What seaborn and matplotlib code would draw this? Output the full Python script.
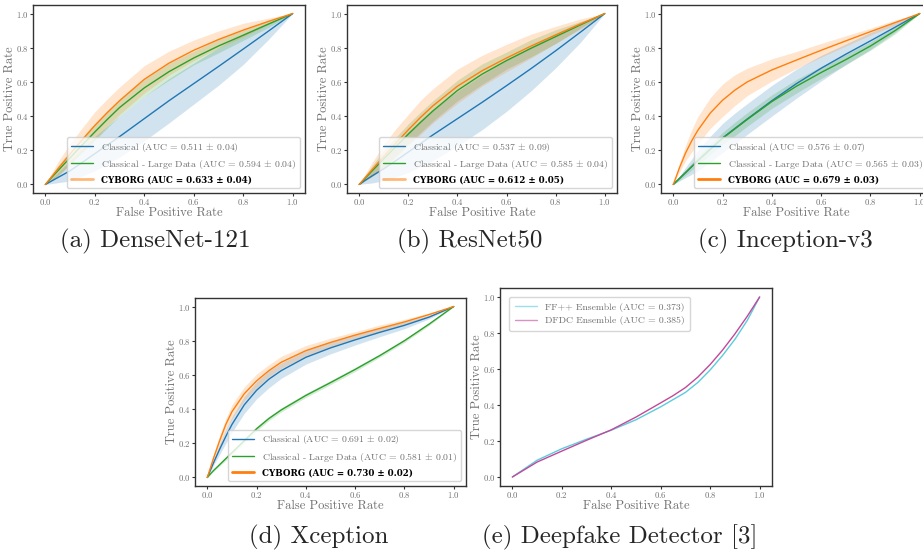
import matplotlib
matplotlib.use("Agg")
import matplotlib.pyplot as plt
import seaborn as sns
from matplotlib.lines import Line2D
from matplotlib.font_manager import FontProperties

# false positive rate grid used for the four model panels
fpr = [0, 0.025, 0.05, 0.075, 0.1, 0.15, 0.2, 0.25, 0.3, 0.4, 0.5, 0.6, 0.7, 0.8, 0.9, 1.0]

# (a) DenseNet-121
dense_classical = [0, 0.02, 0.04, 0.06, 0.08, 0.13, 0.18, 0.23, 0.28, 0.385, 0.49, 0.59, 0.69, 0.792, 0.895, 1]
dense_classical_sd = [0, 0.015, 0.03, 0.045, 0.06, 0.08, 0.10, 0.11, 0.12, 0.13, 0.13, 0.12, 0.11, 0.09, 0.05, 0]
dense_large = [0, 0.04, 0.079, 0.118, 0.156, 0.232, 0.307, 0.38, 0.45, 0.565, 0.66, 0.74, 0.81, 0.873, 0.937, 1]
dense_large_sd = [0, 0.015, 0.03, 0.035, 0.04, 0.045, 0.05, 0.05, 0.05, 0.05, 0.05, 0.04, 0.04, 0.03, 0.02, 0]
dense_cyborg = [0, 0.045, 0.09, 0.134, 0.178, 0.263, 0.345, 0.42, 0.49, 0.615, 0.71, 0.785, 0.848, 0.903, 0.953, 1]
dense_cyborg_sd = [0, 0.02, 0.04, 0.05, 0.06, 0.07, 0.08, 0.08, 0.08, 0.08, 0.07, 0.06, 0.05, 0.04, 0.02, 0]
dense_auc = ["0.511", "0.594", "0.633"]
dense_auc_sd = ["0.04", "0.04", "0.04"]

# (b) ResNet50
resnet_classical = [0, 0.025, 0.048, 0.07, 0.092, 0.14, 0.19, 0.24, 0.29, 0.385, 0.48, 0.578, 0.678, 0.782, 0.89, 1]
resnet_classical_sd = [0, 0.02, 0.04, 0.055, 0.07, 0.095, 0.12, 0.135, 0.15, 0.16, 0.16, 0.15, 0.13, 0.10, 0.06, 0]
resnet_large = [0, 0.038, 0.076, 0.113, 0.15, 0.223, 0.295, 0.364, 0.43, 0.55, 0.645, 0.725, 0.797, 0.865, 0.933, 1]
resnet_large_sd = [0, 0.015, 0.03, 0.04, 0.05, 0.055, 0.06, 0.06, 0.06, 0.06, 0.06, 0.05, 0.05, 0.04, 0.02, 0]
resnet_cyborg = [0, 0.042, 0.083, 0.124, 0.164, 0.243, 0.32, 0.393, 0.46, 0.575, 0.665, 0.74, 0.81, 0.875, 0.938, 1]
resnet_cyborg_sd = [0, 0.02, 0.04, 0.055, 0.07, 0.085, 0.09, 0.10, 0.10, 0.10, 0.09, 0.08, 0.07, 0.05, 0.03, 0]
resnet_auc = ["0.537", "0.585", "0.612"]
resnet_auc_sd = ["0.09", "0.04", "0.05"]

# (c) Inception-v3
incep_classical = [0, 0.035, 0.07, 0.105, 0.14, 0.207, 0.272, 0.328, 0.383, 0.49, 0.59, 0.68, 0.762, 0.84, 0.92, 1]
incep_classical_sd = [0, 0.015, 0.03, 0.045, 0.06, 0.075, 0.085, 0.09, 0.09, 0.09, 0.085, 0.075, 0.06, 0.05, 0.03, 0]
incep_large = [0, 0.035, 0.07, 0.105, 0.14, 0.205, 0.27, 0.325, 0.38, 0.485, 0.575, 0.655, 0.73, 0.81, 0.90, 1]
incep_large_sd = [0, 0.01, 0.015, 0.02, 0.025, 0.03, 0.035, 0.04, 0.04, 0.04, 0.04, 0.035, 0.03, 0.025, 0.02, 0]
incep_cyborg = [0, 0.098, 0.185, 0.256, 0.318, 0.418, 0.493, 0.552, 0.60, 0.67, 0.728, 0.785, 0.84, 0.894, 0.947, 1]
incep_cyborg_sd = [0, 0.025, 0.045, 0.065, 0.08, 0.09, 0.095, 0.09, 0.08, 0.065, 0.05, 0.04, 0.03, 0.02, 0.015, 0]
incep_auc = ["0.576", "0.565", "0.679"]
incep_auc_sd = ["0.07", "0.03", "0.03"]

# (d) Xception
xcep_classical = [0, 0.085, 0.165, 0.24, 0.31, 0.425, 0.51, 0.575, 0.625, 0.703, 0.758, 0.805, 0.849, 0.89, 0.938, 1]
xcep_classical_sd = [0, 0.015, 0.03, 0.04, 0.045, 0.05, 0.05, 0.05, 0.045, 0.04, 0.035, 0.03, 0.025, 0.02, 0.01, 0]
xcep_large = [0, 0.04, 0.075, 0.11, 0.145, 0.215, 0.285, 0.345, 0.395, 0.48, 0.555, 0.632, 0.713, 0.80, 0.897, 1]
xcep_large_sd = [0, 0.005, 0.008, 0.01, 0.01, 0.012, 0.012, 0.012, 0.012, 0.012, 0.012, 0.012, 0.01, 0.01, 0.008, 0]
xcep_cyborg = [0, 0.112, 0.215, 0.31, 0.385, 0.49, 0.565, 0.625, 0.674, 0.742, 0.79, 0.833, 0.872, 0.91, 0.953, 1]
xcep_cyborg_sd = [0, 0.02, 0.03, 0.035, 0.04, 0.04, 0.04, 0.035, 0.035, 0.03, 0.025, 0.02, 0.02, 0.015, 0.01, 0]
xcep_auc = ["0.691", "0.581", "0.730"]
xcep_auc_sd = ["0.02", "0.01", "0.02"]

# (e) Deepfake detector
fpr_df = [0, 0.1, 0.2, 0.3, 0.4, 0.5, 0.6, 0.65, 0.7, 0.75, 0.8, 0.85, 0.9, 0.95, 1.0]
ffpp_tpr = [0, 0.093, 0.157, 0.21, 0.26, 0.318, 0.39, 0.43, 0.47, 0.525, 0.595, 0.675, 0.765, 0.87, 1]
dfdc_tpr = [0, 0.083, 0.144, 0.204, 0.262, 0.333, 0.412, 0.452, 0.497, 0.555, 0.625, 0.705, 0.795, 0.893, 1]
df_labels = ["FF++ Ensemble (AUC = 0.373)", "DFDC Ensemble (AUC = 0.385)"]

series_names = ["Classical", "Classical - Large Data", "CYBORG"]
captions = ["(a) DenseNet-121", "(b) ResNet50", "(c) Inception-v3",
            "(d) Xception", "(e) Deepfake Detector [3]"]

sns.set_style("ticks")
plt.rcParams["font.family"] = ["cmr10", "DejaVu Serif"]
plt.rcParams["mathtext.fontset"] = "cm"
plt.rcParams["axes.formatter.use_mathtext"] = True

GRAY = "#707070"
COLORS = ["#1f77b4", "#2ca02c", "#ff7f0e"]
W, H = 923, 552

fig = plt.figure(figsize=(W / 100, H / 100), dpi=100)


def make_ax(left, top, width, height):
    return fig.add_axes([left / W, 1 - (top + height) / H, width / W, height / H])


def style_ax(ax):
    for s in ax.spines.values():
        s.set_color("#333333")
        s.set_linewidth(1.0)
    ax.tick_params(length=2, width=0.8, color="#333333", labelsize=6.3,
                   labelcolor=GRAY, pad=1)
    ax.set_xticks([0, 0.2, 0.4, 0.6, 0.8, 1.0])
    ax.set_yticks([0, 0.2, 0.4, 0.6, 0.8, 1.0])
    ax.set_xlabel("False Positive Rate", fontsize=9, color=GRAY, labelpad=0)
    ax.set_ylabel("True Positive Rate", fontsize=9, color=GRAY)
    ax.yaxis.set_label_coords(-0.062, 0.5)


def model_panel(ax, curves, sds, aucs, auc_sds, light_cyborg):
    for vals, sd, c in zip(curves, sds, COLORS):
        lo = [v - s for v, s in zip(vals, sd)]
        hi = [v + s for v, s in zip(vals, sd)]
        ax.fill_between(fpr, lo, hi, color=c, alpha=0.2, lw=0)
    for vals, c in zip(curves, COLORS):
        sns.lineplot(x=fpr, y=vals, color=c, lw=1.0, ax=ax, errorbar=None)
    handles = [Line2D([], [], color=COLORS[0], lw=1.0),
               Line2D([], [], color=COLORS[1], lw=1.0),
               Line2D([], [], color=COLORS[2], lw=2.0,
                      alpha=0.55 if light_cyborg else 1.0)]
    labels = [f"{n} (AUC = {a} $\\pm$ {s})" for n, a, s in zip(series_names[:2], aucs, auc_sds)]
    labels.append(f"{series_names[2]} (AUC = {aucs[2]} ± {auc_sds[2]})")
    leg = ax.legend(handles, labels, loc="lower right", fontsize=7,
                    handlelength=2.3, labelspacing=0.45, borderpad=0.4)
    texts = leg.get_texts()
    for t in texts[:2]:
        t.set_color(GRAY)
    texts[2].set_fontproperties(FontProperties(family="DejaVu Serif", weight="bold", size=6.3))
    texts[2].set_color("black")
    style_ax(ax)


panels = [
    ((33, 5, 272, 188), [dense_classical, dense_large, dense_cyborg],
     [dense_classical_sd, dense_large_sd, dense_cyborg_sd], dense_auc, dense_auc_sd, True),
    ((347, 5, 270, 188), [resnet_classical, resnet_large, resnet_cyborg],
     [resnet_classical_sd, resnet_large_sd, resnet_cyborg_sd], resnet_auc, resnet_auc_sd, True),
    ((661, 5, 271, 188), [incep_classical, incep_large, incep_cyborg],
     [incep_classical_sd, incep_large_sd, incep_cyborg_sd], incep_auc, incep_auc_sd, False),
    ((195, 298, 271, 188), [xcep_classical, xcep_large, xcep_cyborg],
     [xcep_classical_sd, xcep_large_sd, xcep_cyborg_sd], xcep_auc, xcep_auc_sd, False),
]
for box, curves, sds, aucs, auc_sds, light in panels:
    ax = make_ax(*box)
    model_panel(ax, curves, sds, aucs, auc_sds, light)

# deepfake detector panel
ax = make_ax(500, 288, 272, 198)
df_colors = ["#5ccbdc", "#c2489c"]
for vals, c in zip([ffpp_tpr, dfdc_tpr], df_colors):
    sns.lineplot(x=fpr_df, y=vals, color=c, lw=1.0, ax=ax, errorbar=None)
handles = [Line2D([], [], color=c, lw=1.0, alpha=0.6) for c in df_colors]
leg = ax.legend(handles, df_labels, loc="upper left", fontsize=7,
                handlelength=2.3, labelspacing=0.45, borderpad=0.6,
                borderaxespad=0.9)
for t in leg.get_texts():
    t.set_color(GRAY)
style_ax(ax)

# captions under each panel
caption_pos = [(155, 241), (470, 241), (785, 241), (319, 537), (620, 537)]
for text, (cx, cy) in zip(captions, caption_pos):
    fig.text(cx / W, 1 - cy / H, text, ha="center", va="center", fontsize=18)

fig.savefig("out.png", dpi=100)
